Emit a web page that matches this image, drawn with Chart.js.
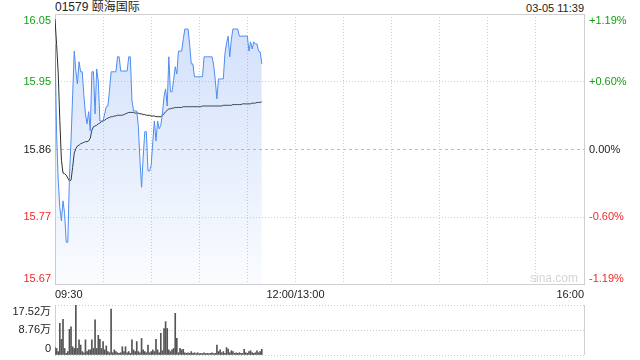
<!DOCTYPE html>
<html>
<head>
<meta charset="utf-8">
<script src="https://cdn.jsdelivr.net/npm/chart.js@4.4.0/dist/chart.umd.min.js"></script>
<style>
  html, body { margin: 0; padding: 0; background: #fff; }
  body { width: 640px; height: 360px; position: relative; overflow: hidden;
         font-family: Arial, "Liberation Sans", "Noto Sans CJK SC", sans-serif; }
  #title { position: absolute; left: 55px; top: 0; font-size: 12px; line-height: 14px; color: #222; }
  #stamp { position: absolute; right: 56px; top: 1px; font-size: 11px; line-height: 14px; color: #222; }
  #wm { position: absolute; right: 62px; top: 271px; font-size: 12px; color: #d4d4d4; }
  canvas { position: absolute; left: 0; }
  #price { top: 0; }
  #vol { top: 300px; }
</style>
</head>
<body>
<div id="title">01579 颐海国际</div>
<div id="stamp">03-05 11:39</div>
<canvas id="price" width="640" height="300"></canvas>
<div id="wm">sina.com</div>
<canvas id="vol" width="640" height="60"></canvas>
<script>
// minute prices from 09:30, session is 330 minutes (09:30-12:00, 13:00-16:00)
const prices = [
  16.008, 15.882, 15.817, 15.779, 15.760, 15.788, 15.770, 15.730, 15.730, 15.821,
  15.872, 15.936, 15.998, 15.971, 15.952, 15.983, 15.969, 15.969, 15.936, 15.910,
  15.896, 15.913, 15.886, 15.969, 15.969, 15.910, 15.973, 15.956, 15.900, 15.900,
  15.900, 15.910, 15.920, 15.921, 15.943, 15.969, 15.969, 15.969, 15.969, 15.990,
  15.990, 15.970, 15.970, 15.970, 15.970, 15.970, 15.990, 15.990, 15.929, 15.914,
  15.914, 15.914, 15.892, 15.845, 15.807, 15.849, 15.885, 15.885, 15.830, 15.830,
  15.838, 15.871, 15.900, 15.872, 15.900, 15.889, 15.894, 15.910, 15.934, 15.945,
  15.921, 15.990, 15.941, 15.941, 15.957, 15.976, 15.966, 15.998, 15.998, 15.998,
  16.014, 16.029, 16.029, 16.029, 16.007, 15.980, 15.980, 15.962, 15.962, 15.962,
  15.962, 15.962, 15.962, 15.990, 15.990, 15.990, 15.990, 15.990, 15.990, 15.978,
  15.957, 15.931, 15.959, 15.959, 15.959, 15.959, 15.994, 16.009, 16.019, 15.990,
  16.014, 16.029, 16.029, 16.029, 16.029, 16.019, 16.019, 16.019, 16.019, 16.019,
  16.019, 15.998, 16.011, 16.001, 16.011, 16.008, 16.008, 15.998, 15.997, 15.980
];

const avgPrices = [
  16.043, 16.007, 15.967, 15.901, 15.845, 15.827, 15.826, 15.824, 15.820, 15.816,
  15.817, 15.835, 15.855, 15.861, 15.865, 15.866, 15.868, 15.869, 15.870, 15.871,
  15.871, 15.872, 15.876, 15.887, 15.892, 15.893, 15.894, 15.896, 15.897, 15.899,
  15.900, 15.901, 15.903, 15.904, 15.905, 15.906, 15.906, 15.907, 15.907, 15.908,
  15.908, 15.908, 15.908, 15.909, 15.910, 15.911, 15.912, 15.912, 15.912, 15.912,
  15.911, 15.911, 15.911, 15.910, 15.910, 15.909, 15.909, 15.908, 15.908, 15.908,
  15.907, 15.907, 15.907, 15.906, 15.906, 15.906, 15.906, 15.908, 15.910, 15.913,
  15.915, 15.917, 15.917, 15.918, 15.918, 15.919, 15.919, 15.919, 15.919, 15.919,
  15.920, 15.920, 15.920, 15.920, 15.920, 15.920, 15.920, 15.920, 15.920, 15.920,
  15.920, 15.920, 15.921, 15.921, 15.921, 15.921, 15.921, 15.921, 15.921, 15.921,
  15.921, 15.921, 15.921, 15.921, 15.921, 15.922, 15.922, 15.922, 15.922, 15.922,
  15.922, 15.923, 15.923, 15.923, 15.923, 15.923, 15.923, 15.924, 15.924, 15.924,
  15.924, 15.924, 15.924, 15.925, 15.925, 15.925, 15.926, 15.926, 15.926, 15.927
];

// volume per minute, in 万 shares
const volumes = [
  2.6, 2.3, 1.2, 11.1, 5.5, 12.5, 2.3, 0.6, 1.2, 9.0,
  9.9, 2.9, 2.3, 17.5, 2.3, 5.3, 3.5, 1.2, 0.8, 5.3,
  1.2, 1.8, 1.8, 5.3, 2.3, 12.3, 2.3, 6.9, 5.5, 2.3,
  4.7, 1.8, 3.2, 1.2, 0.8, 16.1, 0.8, 1.8, 1.2, 0.8,
  0.6, 0.8, 2.9, 1.2, 2.9, 0.8, 1.2, 0.6, 5.3, 1.8,
  1.2, 4.7, 1.2, 0.8, 5.8, 1.8, 1.2, 0.8, 3.5, 0.8,
  1.2, 1.8, 1.2, 5.5, 1.8, 0.8, 7.6, 1.5, 9.3, 11.7,
  9.3, 1.8, 1.2, 1.8, 2.3, 14.6, 5.8, 0.8, 2.3, 1.8,
  2.0, 0.8, 0.6, 0.8, 0.6, 1.2, 0.6, 0.8, 0.5, 0.8,
  0.5, 0.6, 0.5, 0.8, 0.5, 0.6, 0.5, 0.6, 0.8, 0.5,
  0.6, 3.5, 1.2, 1.8, 0.8, 1.2, 0.6, 2.6, 2.1, 0.8,
  1.5, 1.2, 0.6, 0.8, 0.6, 0.8, 0.6, 0.6, 2.0, 0.8,
  0.6, 1.2, 1.5, 0.8, 0.6, 0.8, 1.5, 0.8, 1.2, 2.0
];

const prevClose = 15.86;
const priceTickValues = [16.05, 15.955, 15.86, 15.765, 15.67];
const priceTickLabels = ["16.05", "15.95", "15.86", "15.77", "15.67"];
const pctTickLabels = ["+1.19%", "+0.60%", "0.00%", "-0.60%", "-1.19%"];
const volTickValues = [17.52, 8.76, 0];
const volTickLabels = ["17.52万", "8.76万", "0"];
const xGridValues = [0, 30, 60, 90, 120, 150, 180, 210, 240, 270, 300, 330];
const xTickValues = [0, 150, 330];
const xTickLabels = ["09:30", "12:00/13:00", "16:00"];

const minutes = prices.map((p, i) => i);

const GREEN = "#14a014";
const RED = "#ee2a2a";
const DARK = "#222";
const FONT = 'Arial, "Liberation Sans", "Noto Sans CJK SC", sans-serif';
Chart.defaults.font.family = FONT;

// labels beside the plot, the outer ones pulled inside the frame
const sideLabels = {
  id: "sideLabels",
  afterDraw(chart, args, opts) {
    const { ctx, chartArea } = chart;
    const scale = chart.scales.y;
    ctx.save();
    ctx.font = "11px " + FONT;
    ctx.textBaseline = "middle";
    opts.values.forEach((v, i) => {
      let py = scale.getPixelForValue(v);
      if (i === 0) py += 6.5;
      if (i === opts.values.length - 1) py -= 6.5;
      ctx.fillStyle = opts.colors[i];
      ctx.textAlign = "right";
      ctx.fillText(opts.left[i], chartArea.left - 4, py);
      if (opts.right) {
        ctx.textAlign = "left";
        ctx.fillText(opts.right[i], chartArea.right + 5, py);
      }
    });
    ctx.restore();
  }
};

const frame = {
  id: "frame",
  beforeDatasetsDraw(chart, args, opts) {
    const { ctx, chartArea: a } = chart;
    ctx.save();
    ctx.strokeStyle = "#cfcfcf";
    ctx.lineWidth = 1;
    ctx.setLineDash([]);
    ctx.beginPath();
    ctx.moveTo(a.left + 0.5, a.top);
    ctx.lineTo(a.left + 0.5, a.bottom);
    ctx.moveTo(a.right + 0.5, a.top);
    ctx.lineTo(a.right + 0.5, a.bottom);
    if (opts.box) {
      ctx.moveTo(a.left, a.top + 0.5);
      ctx.lineTo(a.right + 1, a.top + 0.5);
      ctx.moveTo(a.left, a.bottom - 0.5);
      ctx.lineTo(a.right + 1, a.bottom - 0.5);
    }
    ctx.stroke();
    ctx.restore();
  }
};

function areaFill(c) {
  const a = c.chart.chartArea;
  if (!a) return "rgba(100,150,240,0.15)";
  const g = c.chart.ctx.createLinearGradient(0, a.top, 0, a.bottom);
  g.addColorStop(0, "rgba(100,150,240,0.30)");
  g.addColorStop(1, "rgba(100,150,240,0.03)");
  return g;
}

new Chart("price", {
  type: "line",
  data: {
    datasets: [
      {
        data: prices.map((p, i) => ({ x: minutes[i], y: p })),
        borderColor: "#4f8cf0",
        borderWidth: 1,
        backgroundColor: areaFill,
        fill: "start",
        pointRadius: 0,
        tension: 0
      },
      {
        data: avgPrices.map((p, i) => ({ x: minutes[i], y: p })),
        borderColor: "#2c2c2c",
        borderWidth: 1,
        fill: false,
        pointRadius: 0,
        tension: 0
      }
    ]
  },
  options: {
    responsive: false,
    animation: false,
    layout: { padding: { top: 14, right: 56, left: 0, bottom: 0 } },
    plugins: {
      legend: { display: false },
      tooltip: { enabled: false },
      sideLabels: {
        values: priceTickValues,
        left: priceTickLabels,
        right: pctTickLabels,
        colors: [GREEN, GREEN, DARK, RED, RED]
      },
      frame: { box: true }
    },
    scales: {
      x: {
        type: "linear",
        min: 0,
        max: 330,
        afterFit: s => { s.height = 15; },
        afterBuildTicks: s => { s.ticks = xGridValues.map(v => ({ value: v })); },
        ticks: {
          autoSkip: false,
          maxRotation: 0,
          align: "inner",
          padding: 3,
          color: DARK,
          font: { size: 11 },
          callback: v => {
            const i = xTickValues.indexOf(v);
            return i >= 0 ? xTickLabels[i] : "";
          }
        },
        grid: {
          drawTicks: false,
          color: c => (c.tick && (c.tick.value === 0 || c.tick.value === 330)) ? "rgba(0,0,0,0)" : "#cccccc"
        },
        border: { display: false, dash: [1, 2] }
      },
      y: {
        min: 15.67,
        max: 16.05,
        afterFit: s => { s.width = 55; },
        afterBuildTicks: s => { s.ticks = priceTickValues.map(v => ({ value: v })); },
        ticks: { display: false },
        grid: {
          drawTicks: false,
          color: c => {
            if (!c.tick) return "#d2d2d2";
            if (c.tick.value === 16.05 || c.tick.value === 15.67) return "rgba(0,0,0,0)";
            return c.tick.value === prevClose ? "#bdbdbd" : "#d2d2d2";
          }
        },
        border: {
          display: false,
          dash: c => (c.tick && c.tick.value === prevClose) ? [3, 3] : [1, 2]
        }
      }
    }
  },
  plugins: [sideLabels, frame]
});

new Chart("vol", {
  type: "bar",
  data: {
    datasets: [
      {
        data: volumes.map((v, i) => ({ x: minutes[i], y: v })),
        backgroundColor: "#555",
        barThickness: 1
      }
    ]
  },
  options: {
    responsive: false,
    animation: false,
    layout: { padding: { top: 5, right: 56, left: 0, bottom: 5 } },
    plugins: {
      legend: { display: false },
      tooltip: { enabled: false },
      sideLabels: {
        values: volTickValues,
        left: volTickLabels,
        colors: [DARK, DARK, DARK]
      },
      frame: { box: false }
    },
    scales: {
      x: { type: "linear", min: 0, max: 330, offset: false, display: false },
      y: {
        min: 0,
        max: 17.52,
        afterFit: s => { s.width = 55; },
        afterBuildTicks: s => { s.ticks = volTickValues.map(v => ({ value: v })); },
        ticks: { display: false },
        grid: { drawTicks: false, color: "#c8c8c8" },
        border: { display: false, dash: [1, 2] }
      }
    }
  },
  plugins: [sideLabels, frame]
});
</script>
</body>
</html>
